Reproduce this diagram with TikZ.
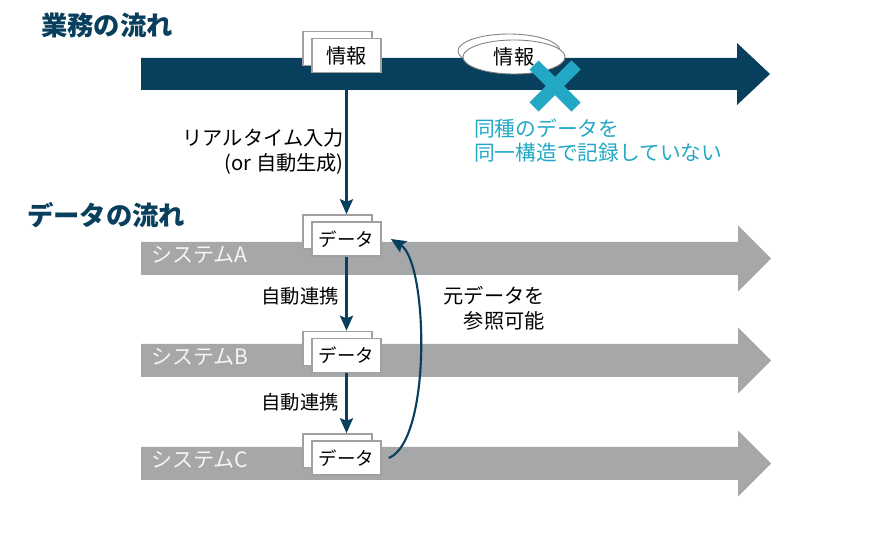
\documentclass[tikz,border=0pt]{standalone}
\usepackage{fontspec}
\setmainfont{Noto Sans CJK JP}
\usetikzlibrary{arrows.meta,shapes.geometric}
\definecolor{flowdark}{HTML}{073F5C}
\definecolor{sysgray}{HTML}{A5A7A9}
\definecolor{boxline}{HTML}{A0A0A0}
\definecolor{warncyan}{HTML}{22A8C4}
\tikzset{
  docbox/.style={draw=boxline,line width=1pt,fill=white,minimum width=1.38cm,minimum height=0.68cm,inner sep=0pt,font=\fontsize{10.5}{12}\selectfont},
  memo/.style={ellipse,draw=gray,line width=0.5pt,fill=white,minimum width=2.04cm,minimum height=0.68cm,inner sep=0pt,font=\fontsize{11.5}{12}\selectfont},
  link/.style={draw=flowdark,line width=1.2pt,-{Stealth[length=8.5pt,width=7.5pt,inset=1.5pt]}},
  note/.style={font=\fontsize{11.5}{14.2}\selectfont},
  title/.style={anchor=west,text=flowdark,font=\fontsize{15}{18}\selectfont\bfseries},
  syslabel/.style={anchor=west,text=white!92!gray,font=\fontsize{12}{13}\selectfont}
}
\begin{document}
\begin{tikzpicture}[x=0.02cm,y=-0.02cm]
\useasboundingbox (0,0) rectangle (882,536);
% business flow
\fill[flowdark] (141,58) -- (737,58) -- (737,43) -- (770,74) -- (737,105) -- (737,90) -- (141,90) -- cycle;
\node[title] (bizttl) at (35,25) {業務の流れ};
\node[docbox] (infoback) at (337.5,48.5) {};
\node[docbox,font=\fontsize{11.5}{12}\selectfont] (info) at (346.5,55.5) {情報};
\node[memo] (memoback) at (509,51) {};
\node[memo] (memo) at (514,57) {情報};
\draw[warncyan,line width=0.26cm] (534,65) -- (576,107);
\draw[warncyan,line width=0.26cm] (576,65) -- (534,107);
\node[note,text=warncyan,align=left,anchor=west,font=\fontsize{11.8}{14.2}\selectfont] (warn) at (468,140.5) {同種のデータを\\同一構造で記録していない};
% data flow
\node[title] (datattl) at (21,215) {データの流れ};
\fill[sysgray] (141,242) -- (738,242) -- (738,225.5) -- (771,258.5) -- (738,291.5) -- (738,275) -- (141,275) -- cycle;
\fill[sysgray] (141,344) -- (738,344) -- (738,327.5) -- (771,360.5) -- (738,393.5) -- (738,377) -- (141,377) -- cycle;
\fill[sysgray] (141,447) -- (738,447) -- (738,430.5) -- (771,463.5) -- (738,496.5) -- (738,480) -- (141,480) -- cycle;
\node[syslabel] (sysA) at (145,255) {システムA};
\node[syslabel] (sysB) at (145,357) {システムB};
\node[syslabel] (sysC) at (145,460) {システムC};
\node[docbox] (dataAback) at (337.5,232) {};
\node[docbox] (dataA) at (346.5,239) {データ};
\node[docbox] (dataBback) at (337.5,348.5) {};
\node[docbox] (dataB) at (346.5,355.5) {データ};
\node[docbox] (dataCback) at (337.5,451) {};
\node[docbox] (dataC) at (346.5,458) {データ};
% connectors
\draw[link] (info.south) -- (info.south |- dataAback.north);
\draw[link] (dataA.south) -- (dataA.south |- dataBback.north);
\draw[link] (dataB.south) -- (dataB.south |- dataCback.north);
\draw[link] ([xshift=0.14cm]dataC.east) .. controls (432,440) and (428,262) .. ([xshift=0.18cm]dataA.east);
\node[note,align=right,anchor=east] (inputlbl) at (350,151.5) {リアルタイム入力\\(or 自動生成)};
\node[note,anchor=east,font=\fontsize{11}{14}\selectfont] (syncAB) at (345,296) {自動連携};
\node[note,anchor=east,font=\fontsize{11}{14}\selectfont] (syncBC) at (345,402) {自動連携};
\node[note,align=right,anchor=east] (reflbl) at (551,308.5) {元データを\\参照可能};
\end{tikzpicture}
\end{document}
